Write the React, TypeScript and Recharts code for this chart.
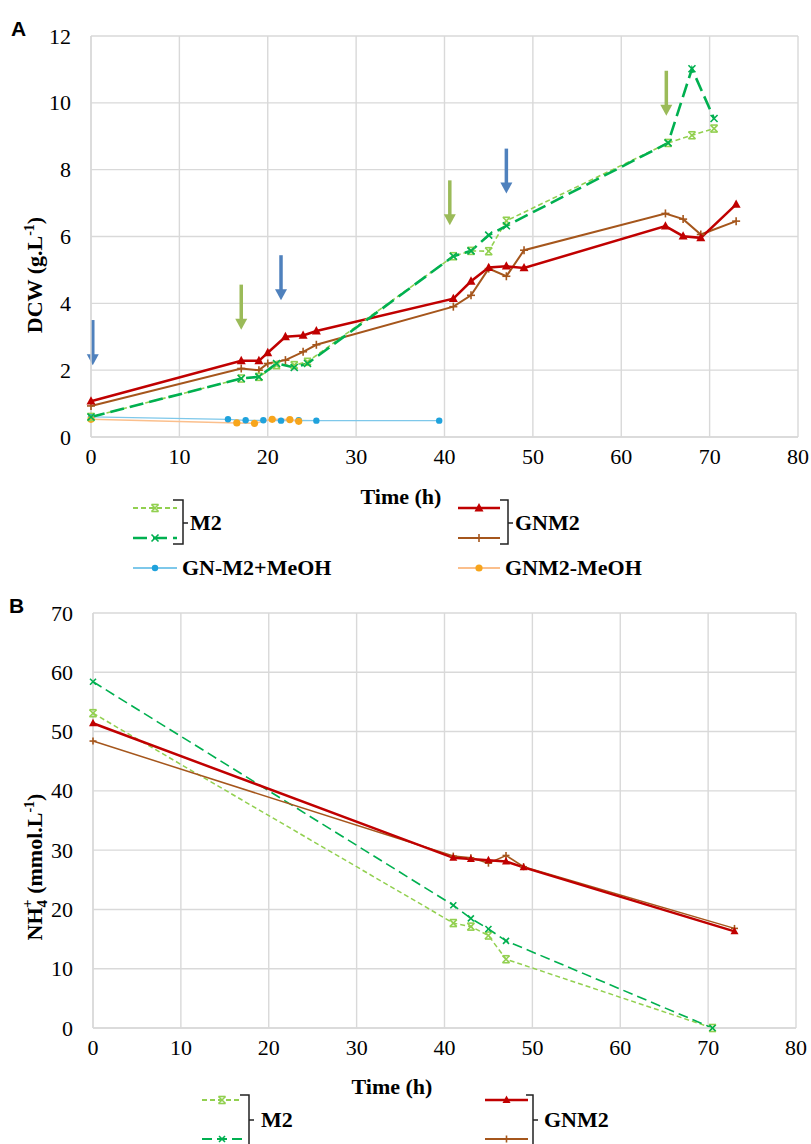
import React from 'react';
import { LineChart, Line, XAxis, YAxis, CartesianGrid, ReferenceLine } from 'recharts';

// ---------- Tick labels ----------
const xTicks = [0, 10, 20, 30, 40, 50, 60, 70, 80];
const yTicksA = [0, 2, 4, 6, 8, 10, 12];
const yTicksB = [0, 10, 20, 30, 40, 50, 60, 70];

// ---------- Panel A: DCW (g/L) ----------
const timeM2a_A = [0, 17, 19, 21, 23, 24.5, 41, 43, 45, 47, 65.3, 68, 70.5];
const dcwM2a = [0.6, 1.75, 1.8, 2.15, 2.15, 2.25, 5.41, 5.57, 5.56, 6.47, 8.8, 9.03, 9.23];
const timeM2b_A = [0, 17, 19, 21, 23, 24.5, 41, 43, 45, 47, 65.3, 68, 70.5];
const dcwM2b = [0.6, 1.75, 1.8, 2.2, 2.08, 2.2, 5.41, 5.57, 6.04, 6.32, 8.8, 11.02, 9.53];
const timeGNM2_A = [0, 17, 19, 20, 22, 24, 25.5, 41, 43, 45, 47, 49, 65, 67, 69, 73];
const dcwGNM2a = [1.07, 2.28, 2.28, 2.52, 3.0, 3.04, 3.17, 4.14, 4.66, 5.07, 5.11, 5.06, 6.31, 6.01, 5.96, 6.96];
const dcwGNM2b = [0.93, 2.05, 2.0, 2.2, 2.3, 2.55, 2.76, 3.9, 4.24, 5.04, 4.81, 5.59, 6.69, 6.52, 6.06, 6.46];
const timeGNM2pMeOH = [0, 15.5, 17.5, 19.5, 21.5, 23.5, 25.5, 39.4];
const dcwGNM2pMeOH = [0.6, 0.53, 0.5, 0.5, 0.49, 0.5, 0.49, 0.49];
const timeGNM2mMeOH = [0, 16.5, 18.5, 20.5, 22.5, 23.5];
const dcwGNM2mMeOH = [0.53, 0.42, 0.41, 0.53, 0.52, 0.47];

// feeding arrows (x, from value, to value)
const blueArrows = [
  { x: 0.2, from: 3.5, to: 2.15 },
  { x: 21.5, from: 5.44, to: 4.09 },
  { x: 47, from: 8.63, to: 7.29 },
];
const greenArrows = [
  { x: 17, from: 4.56, to: 3.21 },
  { x: 40.6, from: 7.68, to: 6.34 },
  { x: 65.1, from: 10.96, to: 9.61 },
];

// ---------- Panel B: NH4+ (mmol/L) ----------
const timeM2_B = [0, 41, 43, 45, 47, 70.5];
const nhM2a = [53.1, 17.7, 17.1, 15.6, 11.6, 0];
const nhM2b = [58.4, 20.7, 18.5, 16.7, 14.7, 0];
const timeGNM2_B = [0, 41, 43, 45, 47, 49, 73];
const nhGNM2a = [51.4, 28.7, 28.5, 28.3, 28.1, 27.1, 16.3];
const nhGNM2b = [48.4, 29.0, 28.7, 27.8, 29.1, 27.2, 16.8];

const zip = (t: number[], v: number[]) => t.map((x, i) => ({ t: x, v: v[i] }));

// ---------- styles ----------
type Sty = { stroke: string; width: number; dash?: string; marker: string; mColor: string; mSize: number };
const S: Record<string, Sty> = {
  lightGreen: { stroke: '#92d050', width: 1.6, dash: '5 3', marker: 'star', mColor: '#92d050', mSize: 3.5 },
  darkGreen: { stroke: '#00b050', width: 2.6, dash: '14 6', marker: 'x', mColor: '#00b050', mSize: 3.5 },
  red: { stroke: '#c00000', width: 2.5, marker: 'tri', mColor: '#c00000', mSize: 4.5 },
  brown: { stroke: '#a5561c', width: 2, marker: 'plus', mColor: '#a5561c', mSize: 4 },
  blue: { stroke: '#7ec8ea', width: 1.3, marker: 'circle', mColor: '#1fa2dc', mSize: 3.2 },
  orange: { stroke: '#fbbf8c', width: 1.6, marker: 'circle', mColor: '#f7a51c', mSize: 3.6 },
  lightGreenB: { stroke: '#92d050', width: 1.5, dash: '5 3', marker: 'star', mColor: '#92d050', mSize: 3.5 },
  darkGreenB: { stroke: '#00b050', width: 1.6, dash: '10 5', marker: 'x', mColor: '#00b050', mSize: 3 },
  redB: { stroke: '#c00000', width: 2.5, marker: 'tri', mColor: '#c00000', mSize: 4 },
  brownB: { stroke: '#a5561c', width: 1.5, marker: 'plus', mColor: '#a5561c', mSize: 3.5 },
};

const SERIF = "'Liberation Serif', 'Times New Roman', serif";
const SANS = "'Liberation Sans', Arial, sans-serif";
const GRID = '#d9d9d9';

function drawMarker(st: Sty, cx: number, cy: number, key: string) {
  const s = st.mSize;
  const c = st.mColor;
  switch (st.marker) {
    case 'tri':
      return <path key={key} d={`M${cx},${cy - s * 1.1} L${cx + s},${cy + s * 0.75} L${cx - s},${cy + s * 0.75} Z`} fill={c} />;
    case 'plus':
      return (
        <g key={key} stroke={c} strokeWidth={1.6}>
          <line x1={cx - s} y1={cy} x2={cx + s} y2={cy} />
          <line x1={cx} y1={cy - s} x2={cx} y2={cy + s} />
        </g>
      );
    case 'x':
      return (
        <g key={key} stroke={c} strokeWidth={1.6}>
          <line x1={cx - s} y1={cy - s} x2={cx + s} y2={cy + s} />
          <line x1={cx - s} y1={cy + s} x2={cx + s} y2={cy - s} />
        </g>
      );
    case 'star':
      return (
        <g key={key} stroke={c} strokeWidth={1.6}>
          <line x1={cx - s} y1={cy - s} x2={cx + s} y2={cy + s} />
          <line x1={cx - s} y1={cy + s} x2={cx + s} y2={cy - s} />
          <line x1={cx - s} y1={cy - s} x2={cx + s} y2={cy - s} />
          <line x1={cx - s} y1={cy + s} x2={cx + s} y2={cy + s} />
        </g>
      );
    default:
      return <circle key={key} cx={cx} cy={cy} r={s} fill={c} />;
  }
}

const dotFn = (st: Sty, id: string) => (p: any) => {
  const { cx, cy, index } = p;
  if (cx == null || cy == null || isNaN(cx) || isNaN(cy)) return <g key={`${id}-e${index}`} />;
  return drawMarker(st, cx, cy, `${id}-${index}`);
};

const arrowShape = (color: string) => (p: any) => {
  const { x1, y1, x2, y2 } = p;
  const top = Math.min(y1, y2);
  const bot = Math.max(y1, y2);
  const head = 11;
  const hw = 6;
  return (
    <g>
      <line x1={x1} y1={top} x2={x2} y2={bot - head + 1} stroke={color} strokeWidth={3.5} />
      <path d={`M${x2 - hw},${bot - head} L${x2 + hw},${bot - head} L${x2},${bot} Z`} fill={color} />
    </g>
  );
};

function series(data: { t: number; v: number }[], st: Sty, id: string) {
  return (
    <Line
      key={id}
      data={data}
      dataKey="v"
      type="linear"
      stroke={st.stroke}
      strokeWidth={st.width}
      strokeDasharray={st.dash}
      dot={dotFn(st, id)}
      activeDot={false}
      isAnimationActive={false}
    />
  );
}

const XTick = (p: any) => {
  const { x, y, payload } = p;
  return (
    <text x={x} y={y + 27} textAnchor="middle" fontFamily={SERIF} fontSize={22} fill="#000">
      {payload.value}
    </text>
  );
};
const YTick = (p: any) => {
  const { x, y, payload } = p;
  return (
    <text x={x - 20} y={y + 7.5} textAnchor="end" fontFamily={SERIF} fontSize={22} fill="#000">
      {payload.value}
    </text>
  );
};

function ChartA() {
  return (
    <LineChart width={811} height={480} margin={{ top: 36, right: 13, left: 0, bottom: 13 }}>
      <CartesianGrid stroke={GRID} strokeWidth={1.4} />
      <XAxis
        type="number"
        dataKey="t"
        domain={[0, 80]}
        ticks={xTicks}
        tickLine={false}
        axisLine={{ stroke: GRID, strokeWidth: 1.4 }}
        tick={<XTick />}
        tickSize={0}
        tickMargin={0}
        height={30}
      />
      <YAxis
        type="number"
        domain={[0, 12]}
        ticks={yTicksA}
        tickLine={false}
        axisLine={{ stroke: GRID, strokeWidth: 1.4 }}
        tick={<YTick />}
        tickSize={0}
        tickMargin={0}
        width={91}
      />
      {series(zip(timeGNM2pMeOH, dcwGNM2pMeOH), S.blue, 'blue')}
      {series(zip(timeGNM2mMeOH, dcwGNM2mMeOH), S.orange, 'orange')}
      {series(zip(timeGNM2_A, dcwGNM2b), S.brown, 'brown')}
      {series(zip(timeGNM2_A, dcwGNM2a), S.red, 'red')}
      {series(zip(timeM2a_A, dcwM2a), S.lightGreen, 'lg')}
      {series(zip(timeM2b_A, dcwM2b), S.darkGreen, 'dg')}
      {blueArrows.map((a, i) => (
        <ReferenceLine
          key={`ba${i}`}
          segment={[{ x: a.x, y: a.from }, { x: a.x, y: a.to }]}
          shape={arrowShape('#4f81bd')}
          ifOverflow="visible"
        />
      ))}
      {greenArrows.map((a, i) => (
        <ReferenceLine
          key={`ga${i}`}
          segment={[{ x: a.x, y: a.from }, { x: a.x, y: a.to }]}
          shape={arrowShape('#9bbb59')}
          ifOverflow="visible"
        />
      ))}
    </LineChart>
  );
}

function ChartB() {
  return (
    <LineChart width={811} height={500} margin={{ top: 33, right: 15, left: 0, bottom: 22 }}>
      <CartesianGrid stroke={GRID} strokeWidth={1.4} />
      <XAxis
        type="number"
        dataKey="t"
        domain={[0, 80]}
        ticks={xTicks}
        tickLine={false}
        axisLine={{ stroke: GRID, strokeWidth: 1.4 }}
        tick={<XTick />}
        tickSize={0}
        tickMargin={0}
        height={30}
      />
      <YAxis
        type="number"
        domain={[0, 70]}
        ticks={yTicksB}
        tickLine={false}
        axisLine={{ stroke: GRID, strokeWidth: 1.4 }}
        tick={<YTick />}
        tickSize={0}
        tickMargin={0}
        width={93}
      />
      {series(zip(timeM2_B, nhM2a), S.lightGreenB, 'lgB')}
      {series(zip(timeM2_B, nhM2b), S.darkGreenB, 'dgB')}
      {series(zip(timeGNM2_B, nhGNM2b), S.brownB, 'brB')}
      {series(zip(timeGNM2_B, nhGNM2a), S.redB, 'rdB')}
    </LineChart>
  );
}

function Swatch({ x1, x2, y, st, id }: { x1: number; x2: number; y: number; st: Sty; id: string }) {
  return (
    <g>
      <line x1={x1} x2={x2} y1={y} y2={y} stroke={st.stroke} strokeWidth={Math.max(st.width, 2)} strokeDasharray={st.dash} />
      {drawMarker(st, (x1 + x2) / 2, y, id)}
    </g>
  );
}

function Bracket({ x, yTop, yBot, yMid, left }: { x: number; yTop: number; yBot: number; yMid: number; left: number }) {
  return (
    <g stroke="#222" strokeWidth={1.5} fill="none">
      <path d={`M${x - left},${yTop} H${x} V${yBot} H${x - left}`} />
      <line x1={x} x2={x + 5} y1={yMid} y2={yMid} />
    </g>
  );
}

function Overlay() {
  const lbl = { fontFamily: SERIF, fontWeight: 700, fontSize: 22, fill: '#000' } as const;
  return (
    <svg width={811} height={1144} style={{ position: 'absolute', left: 0, top: 0, pointerEvents: 'none' }}>
      {/* panel letters */}
      <text x={11} y={36} fontFamily={SANS} fontWeight={700} fontSize={21}>A</text>
      <text x={9} y={613} fontFamily={SANS} fontWeight={700} fontSize={21}>B</text>

      {/* Panel A axis titles */}
      <text transform="translate(42,275) rotate(-90)" textAnchor="middle" {...lbl}>
        DCW (g.L<tspan dy={-8} fontSize={14}>-1</tspan><tspan dy={8}>)</tspan>
      </text>
      <text x={401} y={504} textAnchor="middle" {...lbl}>Time (h)</text>

      {/* Panel A legend */}
      <Swatch x1={133} x2={177} y={508} st={S.lightGreen} id="lgA1" />
      <Swatch x1={133} x2={177} y={538} st={S.darkGreen} id="lgA2" />
      <Bracket x={183} yTop={500} yBot={544} yMid={523} left={10} />
      <text x={190} y={530} {...lbl}>M2</text>
      <Swatch x1={458} x2={500} y={508} st={S.red} id="lgA3" />
      <Swatch x1={458} x2={500} y={538} st={S.brown} id="lgA4" />
      <Bracket x={508} yTop={500} yBot={544} yMid={523} left={8} />
      <text x={515} y={530} {...lbl}>GNM2</text>
      <Swatch x1={133} x2={177} y={568} st={S.blue} id="lgA5" />
      <text x={182} y={575} {...lbl}>GN-M2+MeOH</text>
      <Swatch x1={458} x2={500} y={568} st={S.orange} id="lgA6" />
      <text x={505} y={575} {...lbl}>GNM2-MeOH</text>

      {/* Panel B axis titles */}
      <text transform="translate(42,867) rotate(-90)" textAnchor="middle" {...lbl}>
        NH<tspan dy={5} fontSize={15}>4</tspan><tspan dx={-8} dy={-15} fontSize={15}>+</tspan><tspan dy={10}> (mmol.L</tspan><tspan dy={-8} fontSize={14}>-1</tspan><tspan dy={8}>)</tspan>
      </text>
      <text x={392} y={1094} textAnchor="middle" {...lbl}>Time (h)</text>

      {/* Panel B legend */}
      <Swatch x1={202} x2={242} y={1100} st={S.lightGreenB} id="lgB1" />
      <Swatch x1={202} x2={242} y={1139} st={S.darkGreenB} id="lgB2" />
      <Bracket x={249} yTop={1095} yBot={1150} yMid={1120} left={9} />
      <text x={261} y={1127} {...lbl}>M2</text>
      <Swatch x1={485} x2={528} y={1100} st={S.redB} id="lgB3" />
      <Swatch x1={485} x2={528} y={1139} st={S.brownB} id="lgB4" />
      <Bracket x={533} yTop={1095} yBot={1150} yMid={1120} left={7} />
      <text x={544} y={1127} {...lbl}>GNM2</text>
    </svg>
  );
}

export default function App() {
  return (
    <div style={{ position: 'absolute', left: 0, top: 0, width: 811, height: 1144, background: '#fff', overflow: 'hidden' }}>
      <div style={{ position: 'absolute', left: 0, top: 0 }}>
        <ChartA />
      </div>
      <div style={{ position: 'absolute', left: 0, top: 580 }}>
        <ChartB />
      </div>
      <Overlay />
    </div>
  );
}
